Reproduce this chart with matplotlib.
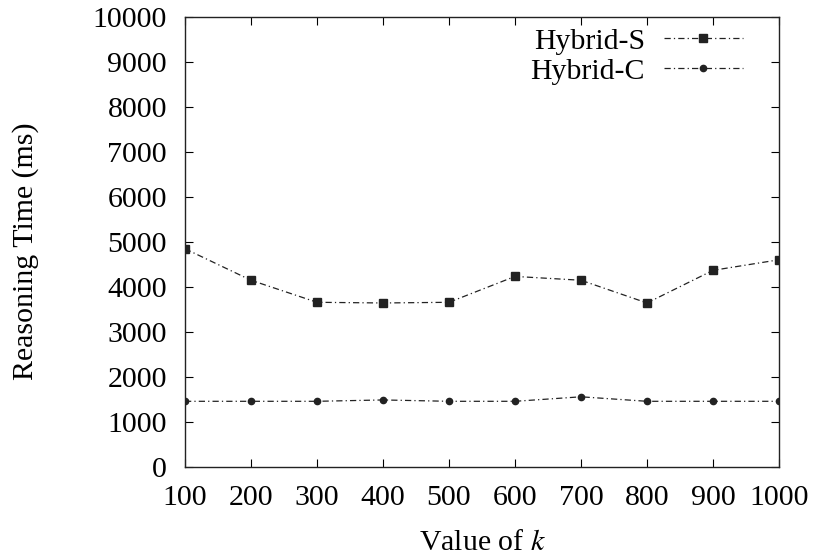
import matplotlib
matplotlib.use("Agg")
import matplotlib.pyplot as plt

k_values = [100, 200, 300, 400, 500, 600, 700, 800, 900, 1000]
hybrid_s = [4850, 4150, 3660, 3645, 3660, 4235, 4150, 3645, 4370, 4605]
hybrid_c = [1460, 1460, 1460, 1490, 1460, 1460, 1560, 1460, 1460, 1460]
y_ticks = list(range(0, 10001, 1000))

plt.rcParams['font.family'] = ['Liberation Serif', 'DejaVu Serif']
plt.rcParams['mathtext.fontset'] = 'stix'

FS = 21.5
fig = plt.figure(figsize=(8.15, 5.6), dpi=100)
ax = fig.add_axes([185/815, 1-467/560, (779-185)/815, (467-17)/560])

col = '#222222'
dash = (0, (5, 2.5, 1, 2.5))
ax.plot(k_values, hybrid_s, linestyle=dash, color=col, linewidth=0.9,
        marker='s', markersize=5.5, label='Hybrid-S')
ax.plot(k_values, hybrid_c, linestyle=dash, color=col, linewidth=0.9,
        marker='o', markersize=4.5, label='Hybrid-C')

ax.set_xlim(100, 1000)
ax.set_ylim(0, 10000)
ax.set_xticks(k_values)
ax.set_yticks(y_ticks)
ax.tick_params(direction='in', top=True, right=True, length=5.5, width=0.8,
               labelsize=FS)
ax.tick_params(axis='y', pad=13)
ax.tick_params(axis='x', pad=13)
for s in ax.spines.values():
    s.set_linewidth(1.0)
    s.set_color('#222222')

ax.set_xlabel('Value of $k$', fontsize=FS, va='center')
ax.xaxis.set_label_coords(0.5, -(543-467)/450)
ax.set_ylabel('Reasoning Time (ms)', fontsize=FS, va='center')
ax.yaxis.set_label_coords((26-185)/594, 1-(251-17)/450)

leg = ax.legend(loc='upper right', frameon=False, fontsize=FS, markerfirst=False,
                handlelength=2.65, borderaxespad=0, borderpad=0.4,
                labelspacing=0.1, handletextpad=0.64,
                bbox_to_anchor=(0.9596, 1.002))

fig.savefig('out.png', dpi=100)
